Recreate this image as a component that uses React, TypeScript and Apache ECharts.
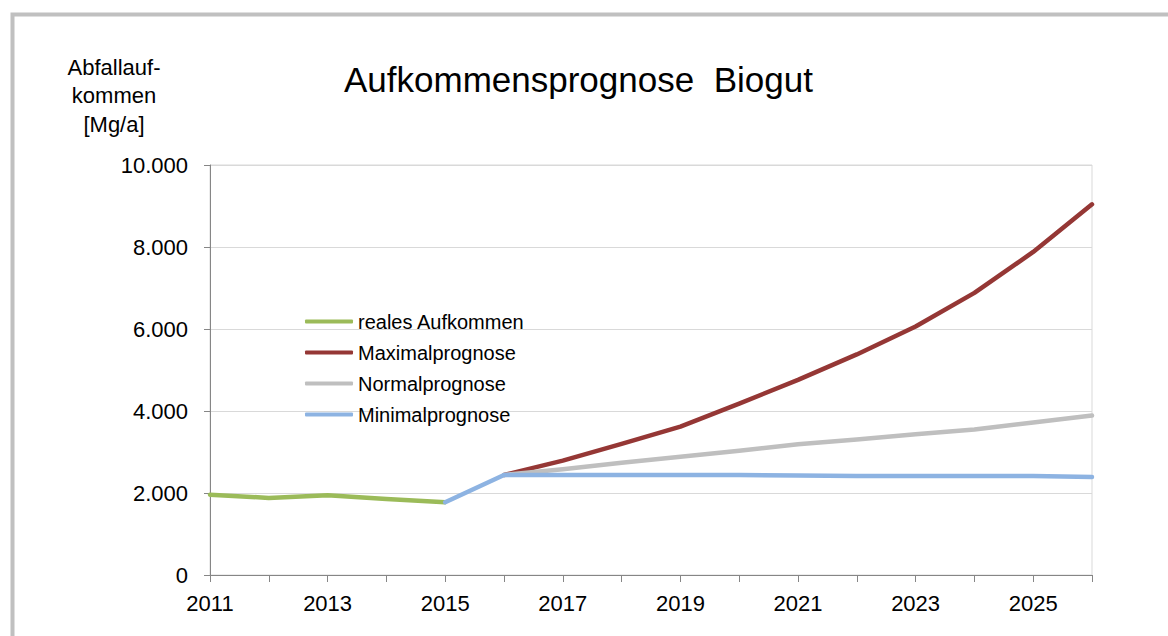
import React, { useEffect, useRef } from "react";
import * as echarts from "echarts";

const years = ["2011","2012","2013","2014","2015","2016","2017","2018","2019","2020","2021","2022","2023","2024","2025","2026"];
const realValues = [1960, 1880, 1945, 1855, 1775, null, null, null, null, null, null, null, null, null, null, null];
const maxValues = [null, null, null, null, null, 2440, 2790, 3200, 3620, 4180, 4760, 5380, 6060, 6880, 7880, 9040];
const normalValues = [null, null, null, null, null, 2440, 2580, 2740, 2885, 3030, 3190, 3305, 3435, 3550, 3720, 3890];
const minValues = [null, null, null, null, 1775, 2440, 2440, 2440, 2440, 2440, 2425, 2415, 2415, 2415, 2415, 2390];
const yTicks = [0, 2000, 4000, 6000, 8000, 10000];
const seriesNames = ["reales Aufkommen", "Maximalprognose", "Normalprognose", "Minimalprognose"];
const titleText = "Aufkommensprognose  Biogut";
const yAxisTitle = "Abfallauf-\nkommen\n[Mg/a]";

const FONT = "'Liberation Sans', Arial, sans-serif";

function fmt(v: number): string {
  return String(v).replace(/\B(?=(\d{3})+(?!\d))/g, ".");
}

export default function App() {
  const ref = useRef<HTMLDivElement>(null);
  useEffect(() => {
    if (!ref.current) return;
    const chart = echarts.init(ref.current, undefined, { renderer: "svg" });
    const colors = ["#9bbb59", "#953735", "#bfbfbf", "#8db3e2"];
    const datas = [realValues, maxValues, normalValues, minValues];
    chart.setOption({
      animation: false,
      backgroundColor: "#ffffff",
      textStyle: { fontFamily: FONT },
      title: {
        text: titleText,
        left: 344,
        top: 62,
        padding: 0,
        textStyle: { fontFamily: FONT, fontSize: 35, fontWeight: "normal", color: "#000" },
      },
      graphic: [
        {
          type: "rect",
          shape: { x: 12.5, y: 14.5, width: 1300, height: 800 },
          style: { fill: "none", stroke: "#c0c0c0", lineWidth: 4 },
          silent: true,
        },
        {
          type: "text",
          x: 114,
          y: 53,
          style: {
            text: yAxisTitle,
            fontFamily: FONT,
            fontSize: 22,
            lineHeight: 28.5,
            fill: "#000",
            align: "center",
            verticalAlign: "top",
          },
        },
      ],
      legend: {
        orient: "vertical",
        left: 305,
        top: 311,
        padding: 0,
        itemWidth: 48,
        itemHeight: 4,
        itemGap: 10,
        icon: "roundRect",
        textStyle: { fontFamily: FONT, fontSize: 20, color: "#000", lineHeight: 21 },
        data: seriesNames,
      },
      grid: {
        left: 210,
        right: 76,
        top: 165,
        bottom: 61,
        show: true,
        borderColor: "#d9d9d9",
        borderWidth: 1,
        backgroundColor: "transparent",
      },
      xAxis: {
        type: "category",
        data: years,
        boundaryGap: false,
        axisLine: { lineStyle: { color: "#868686", width: 1 } },
        axisTick: { show: true, length: 7, interval: 0, lineStyle: { color: "#868686" } },
        axisLabel: {
          interval: 1,
          margin: 17,
          fontFamily: FONT,
          fontSize: 22,
          color: "#000",
        },
        splitLine: { show: false },
      },
      yAxis: {
        type: "value",
        min: yTicks[0],
        max: yTicks[yTicks.length - 1],
        interval: 2000,
        axisLine: { show: true, lineStyle: { color: "#868686", width: 1 } },
        axisTick: { show: true, length: 6, lineStyle: { color: "#868686" } },
        axisLabel: {
          margin: 22,
          fontFamily: FONT,
          fontSize: 22,
          color: "#000",
          formatter: (v: number) => fmt(v),
        },
        splitLine: { show: true, lineStyle: { color: "#d9d9d9", width: 1 } },
      },
      series: seriesNames.map((name, i) => ({
        name,
        type: "line",
        data: datas[i],
        color: colors[i],
        showSymbol: false,
        symbol: "none",
        connectNulls: false,
        lineStyle: { width: 4.5, color: colors[i], cap: "round", join: "round" },
        z: 2 + i,
      })),
    });
    return () => chart.dispose();
  }, []);
  return (
    <div
      ref={ref}
      style={{ position: "fixed", left: 0, top: 0, width: 1168, height: 636, overflow: "hidden" }}
    />
  );
}
